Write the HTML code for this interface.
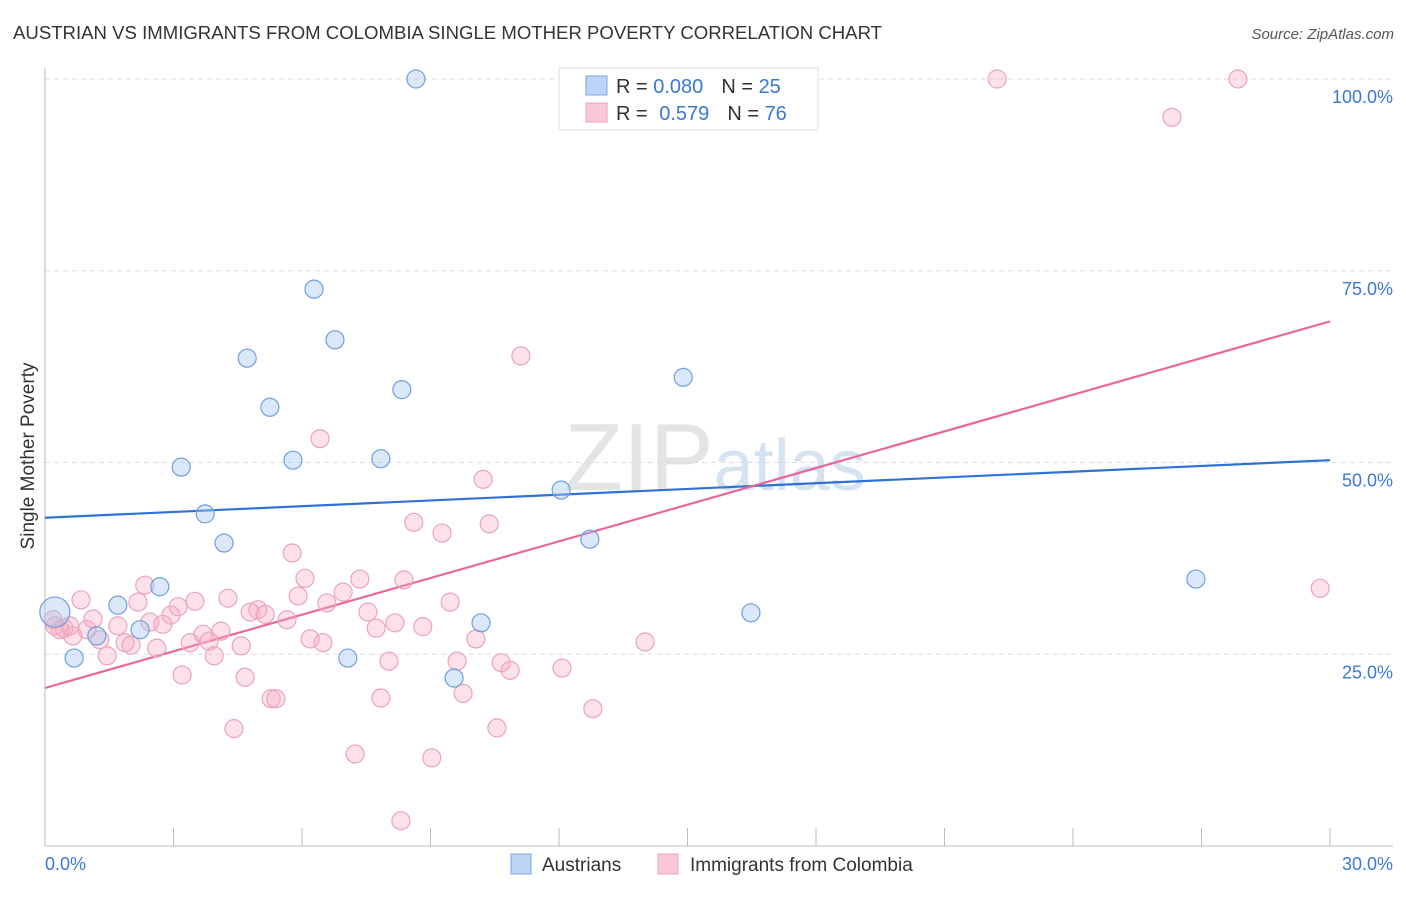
<!DOCTYPE html>
<html><head><meta charset="utf-8"><style>
body{margin:0;background:#fff;font-family:"Liberation Sans",sans-serif}
svg text{font-family:"Liberation Sans",sans-serif}
</style></head><body>
<svg id="chart" width="1406" height="892" viewBox="0 0 1406 892" xmlns="http://www.w3.org/2000/svg">
<text x="13" y="39" font-size="18" fill="#333" textLength="869" lengthAdjust="spacingAndGlyphs">AUSTRIAN VS IMMIGRANTS FROM COLOMBIA SINGLE MOTHER POVERTY CORRELATION CHART</text>
<text x="1394" y="39" font-size="15" fill="#555" text-anchor="end" font-style="italic">Source: ZipAtlas.com</text>
<text x="715" y="490" font-size="96" text-anchor="middle" fill="#e4e4e4" font-family="Liberation Serif">ZIP<tspan fill="#d5e2f2" font-family="Liberation Sans" font-size="72">atlas</tspan></text>
<g id="grid"></g>
<g id="axes"></g>
<g id="lines"></g>
<g id="pts"></g>
<text transform="translate(34,456) rotate(-90)" font-size="19" fill="#333" text-anchor="middle">Single Mother Poverty</text>
<g>
<rect x="559" y="68" width="259" height="62" fill="#fff" stroke="#ddd"/>
<rect x="586" y="76" width="21" height="19" fill="#bcd4f5" stroke="#7ba6e3"/>
<rect x="586" y="103" width="21" height="19" fill="#f9c8d6" stroke="#ee9fb8"/>
<text x="616" y="93" font-size="20" fill="#333">R = <tspan fill="#3b78d4">0.080</tspan><tspan dx="18">N = </tspan><tspan fill="#3b78d4">25</tspan></text>
<text x="616" y="120" font-size="20" fill="#333">R = <tspan fill="#3b78d4" dx="6">0.579</tspan><tspan dx="18">N = </tspan><tspan fill="#3b78d4">76</tspan></text>
</g>
<g>
<rect x="511" y="854" width="20" height="20" fill="#bcd4f5" stroke="#7ba6e3"/>
<text x="542" y="871" font-size="19" fill="#333">Austrians</text>
<rect x="658" y="854" width="20" height="20" fill="#f9c8d6" stroke="#ee9fb8"/>
<text x="690" y="871" font-size="19" fill="#333">Immigrants from Colombia</text>
</g>
</svg>
<script>
const xTickLabels=["0.0%","30.0%"];
const yTicks=[25,50,75,100];
const yTickLabels=["25.0%","50.0%","75.0%","100.0%"];
const blueX=[8.66,6.28,6.77,4.72,5.25,8.33,14.9,3.18,5.79,7.84,12.05,3.74,4.18,12.72,26.87,2.68,1.70,16.48,10.18,2.22,1.21,0.68,7.07,9.55,0.23];
const blueY=[100,72.6,66.0,63.6,57.2,59.5,61.1,49.4,50.3,50.5,46.4,43.3,39.5,40.0,34.8,33.8,31.4,30.4,29.1,28.2,27.4,24.5,24.5,21.9,30.5];
const pinkX=[22.23,27.85,26.31,11.11,6.42,10.23,8.61,10.37,9.27,5.77,29.77,6.07,7.35,8.38,2.33,0.84,2.17,3.50,4.27,5.91,6.96,6.58,9.46,3.11,4.97,4.79,5.14,7.54,2.94,1.12,5.65,2.75,2.45,1.70,8.17,8.82,7.73,4.11,0.44,0.23,0.98,3.69,0.65,6.19,10.06,14.01,1.28,3.39,1.87,6.49,3.83,2.01,2.61,4.58,1.45,3.95,8.03,9.62,10.65,10.86,12.07,3.20,4.67,5.28,5.39,7.84,9.76,12.79,4.41,10.55,7.24,9.03,8.31,0.19,0.35,0.58];
const pinkY=[100,100,95.0,63.9,53.1,47.8,42.2,42.0,40.8,38.2,33.6,34.9,34.8,34.7,34.0,32.1,31.8,31.9,32.3,32.6,33.1,31.7,31.8,31.2,30.8,30.5,30.2,30.5,30.1,29.6,29.5,28.9,29.2,28.7,29.1,28.6,28.4,28.0,28.4,28.7,28.2,27.6,27.4,27.0,27.0,26.6,26.9,26.5,26.5,26.5,26.7,26.2,25.8,26.1,24.8,24.8,24.1,24.1,23.9,22.9,23.2,22.3,22.0,19.2,19.2,19.3,19.9,17.9,15.3,15.4,12.0,11.5,3.3,29.5,28.2,28.7];
const blueLine=[42.8,50.3];
const pinkLine=[20.6,68.4];
const NS="http://www.w3.org/2000/svg";
const X=v=>45+v/30*1285, Y=v=>846-v/100*767;
function mk(p,t,a){const e=document.createElementNS(NS,t);for(const k in a)e.setAttribute(k,a[k]);p.appendChild(e);return e;}
const grid=document.getElementById('grid'),axes=document.getElementById('axes'),lines=document.getElementById('lines'),pts=document.getElementById('pts');
yTicks.forEach((t,i)=>{
 const l=mk(grid,'line',{x1:45,x2:1393,y1:Y(t),y2:Y(t),stroke:'#ddd','stroke-dasharray':'5,4'});
 
 
 const tx=mk(axes,'text',{x:1393,y:Y(t)+24,'font-size':18,fill:'#3b78d4','text-anchor':'end'});tx.textContent=yTickLabels[i];
 
 
});
mk(axes,'line',{x1:45,x2:45,y1:68,y2:846,stroke:'#bbb'});
mk(axes,'line',{x1:45,x2:1393,y1:846,y2:846,stroke:'#bbb'});
for(let i=1;i<=10;i++){const x=X(i*3);mk(axes,'line',{x1:x,x2:x,y1:828,y2:846,stroke:'#bbb'});}
[[0,'start',45],[30,'end',1393]].forEach((d,i)=>{const t=mk(axes,'text',{x:d[2],y:870,'font-size':18,fill:'#3b78d4','text-anchor':d[1]});t.textContent=xTickLabels[i];
 
 });
pinkX.forEach((x,i)=>{const c=mk(pts,'circle',{cx:X(x),cy:Y(pinkY[i]),r:9,fill:'rgba(246,170,195,0.35)',stroke:'#eca2bb','stroke-width':1.2});
 
 });
blueX.forEach((x,i)=>{const c=mk(pts,'circle',{cx:X(x),cy:Y(blueY[i]),r:i==24?15:9,fill:'rgba(165,198,240,0.4)',stroke:'#6f9ee0','stroke-width':1.2});
 
 });
const bl=mk(lines,'line',{x1:X(0),x2:X(30),y1:Y(blueLine[0]),y2:Y(blueLine[1]),stroke:'#2f72d6','stroke-width':2.2});


const pl=mk(lines,'line',{x1:X(0),x2:X(30),y1:Y(pinkLine[0]),y2:Y(pinkLine[1]),stroke:'#e8679a','stroke-width':2.2});


</script>
</body></html>
